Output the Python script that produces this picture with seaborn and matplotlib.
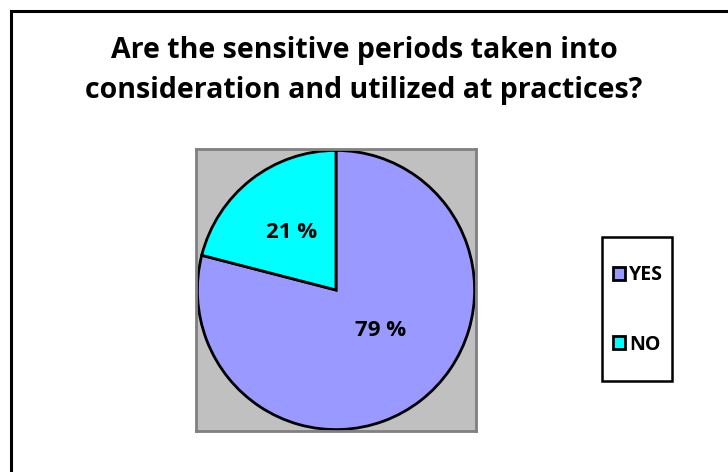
import matplotlib
matplotlib.use("Agg")
import matplotlib.pyplot as plt
import seaborn as sns
from matplotlib.patches import Rectangle

sns.set_style("white")
plt.rcParams["font.family"] = ["Open Sans", "DejaVu Sans"]
plt.rcParams["text.color"] = "black"

labels = ["YES", "NO"]
shares = [79, 21]
colors = ["#9999FF", "#00FFFF"]
title = "Are the sensitive periods taken into\nconsideration and utilized at practices?"

W, H = 728, 472
fig = plt.figure(figsize=(W / 100, H / 100), dpi=100)

# outer chart frame (runs off the right and bottom edge)
fig.patches.append(Rectangle((10.5 / W, -0.2), 1.2, 1.2 - 10.5 / H,
                             transform=fig.transFigure, fill=False,
                             edgecolor="black", linewidth=2.2))

ax = fig.add_axes([196 / W, 41 / H, 280 / W, 282 / H])
ax.set_facecolor("#C0C0C0")
for side in ax.spines.values():
    side.set_visible(True)
    side.set_edgecolor("#808080")
    side.set_linewidth(2)

wedges, texts, autotexts = ax.pie(
    shares,
    colors=colors,
    startangle=90,
    counterclock=False,
    autopct=lambda p: f"{p:.0f} %",
    pctdistance=0.52,
    radius=0.99,
    wedgeprops={"edgecolor": "black", "linewidth": 2, "clip_on": False},
    textprops={"fontsize": 16, "fontweight": "bold", "color": "black"},
    frame=True,
)
# Excel puts the big slice's label a bit off its bisector
autotexts[0].set_position((0.32, -0.29))
ax.set_xlim(-1.0, 1.0)
ax.set_ylim(-1.0, 1.0)
ax.set_xticks([])
ax.set_yticks([])
ax.set_aspect("auto")

fig.text(0.5, 1 - 71 / H, title, ha="center", va="center",
         fontsize=20.5, fontweight="bold", linespacing=1.5)

# legend box drawn separately so its padding can match the original
fig.patches.append(Rectangle((602 / W, 1 - 381 / H), 70 / W, 144 / H,
                             transform=fig.transFigure, fill=False,
                             edgecolor="black", linewidth=1.8))
leg = fig.legend(wedges, labels, loc="center",
                 bbox_to_anchor=(638 / W, 1 - 310 / H),
                 prop={"size": 14, "weight": "bold"},
                 frameon=False,
                 handlelength=0.65, handleheight=0.65, handletextpad=0.2,
                 labelspacing=2.55, borderpad=0, borderaxespad=0)

fig.savefig("out.png", dpi=100, facecolor="white")
